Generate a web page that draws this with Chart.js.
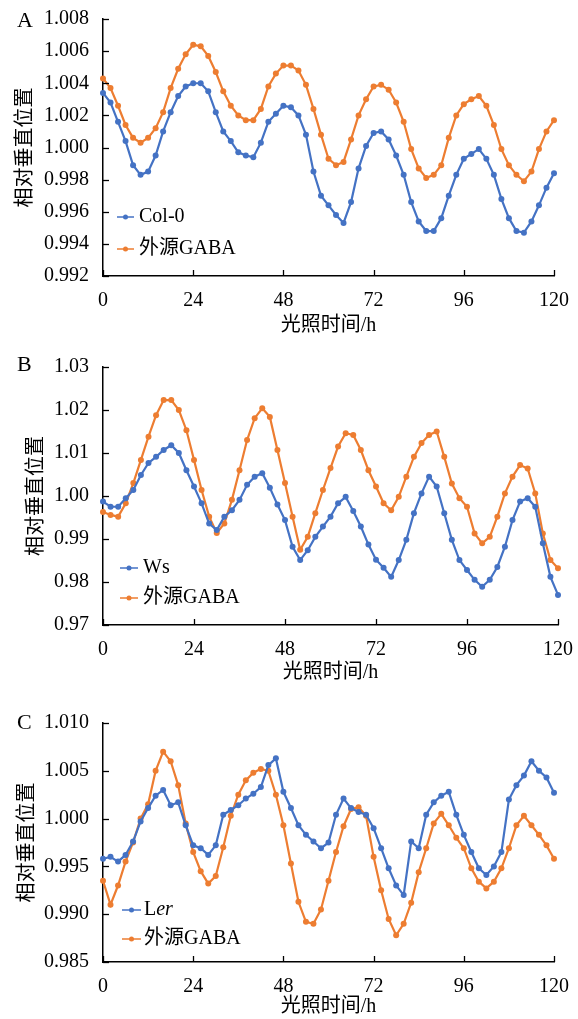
<!DOCTYPE html>
<html>
<head>
<meta charset="utf-8">
<script src="https://cdn.jsdelivr.net/npm/chart.js@4.4.1/dist/chart.umd.min.js"></script>
<style>
  html, body { margin: 0; padding: 0; background: #fff; width: 578px; height: 1019px; overflow: hidden; }
  .panel { position: absolute; left: 0; width: 578px; }
</style>
</head>
<body>
<div class="panel" style="top:0"><canvas id="chartA" width="578" height="340"></canvas></div>
<div class="panel" style="top:340px"><canvas id="chartB" width="578" height="345"></canvas></div>
<div class="panel" style="top:680px"><canvas id="chartC" width="578" height="339"></canvas></div>
<script>
// 光照时间 (h)
const hours = [0, 2, 4, 6, 8, 10, 12, 14, 16, 18, 20, 22, 24, 26, 28, 30, 32, 34, 36, 38, 40,
  42, 44, 46, 48, 50, 52, 54, 56, 58, 60, 62, 64, 66, 68, 70, 72, 74, 76, 78, 80,
  82, 84, 86, 88, 90, 92, 94, 96, 98, 100, 102, 104, 106, 108, 110, 112, 114, 116, 118, 120];
const xTicks = [0, 24, 48, 72, 96, 120];

// A: Col-0 / 外源GABA
const col0 = [1.0034, 1.0028, 1.0016, 1.0004, 0.9989, 0.9983, 0.9985, 0.9995, 1.0010, 1.0022, 1.0032,
  1.0038, 1.0040, 1.0040, 1.0035, 1.0022, 1.0010, 1.0004, 0.9997, 0.9995, 0.9994,
  1.0003, 1.0016, 1.0021, 1.0026, 1.0025, 1.0020, 1.0008, 0.9985, 0.9970, 0.9964,
  0.9958, 0.9953, 0.9966, 0.9987, 1.0001, 1.0009, 1.0010, 1.0005, 0.9995, 0.9983,
  0.9966, 0.9954, 0.9948, 0.9948, 0.9956, 0.9970, 0.9983, 0.9993, 0.9996, 0.9999,
  0.9993, 0.9983, 0.9968, 0.9956, 0.9948, 0.9947, 0.9954, 0.9964, 0.9975, 0.9984];
const gabaA = [1.0043, 1.0037, 1.0026, 1.0014, 1.0006, 1.0003, 1.0006, 1.0012, 1.0022, 1.0037, 1.0049,
  1.0058, 1.0064, 1.0063, 1.0057, 1.0047, 1.0035, 1.0026, 1.0020, 1.0017, 1.0017,
  1.0024, 1.0038, 1.0046, 1.0051, 1.0051, 1.0048, 1.0039, 1.0024, 1.0008, 0.9993,
  0.9989, 0.9991, 1.0005, 1.0020, 1.0030, 1.0038, 1.0039, 1.0036, 1.0028, 1.0016,
  0.9999, 0.9987, 0.9981, 0.9983, 0.9989, 1.0006, 1.0020, 1.0027, 1.0030, 1.0032,
  1.0026, 1.0014, 0.9999, 0.9989, 0.9983, 0.9979, 0.9985, 0.9999, 1.0010, 1.0017];

// B: Ws / 外源GABA
const ws = [0.9987, 0.9975, 0.9975, 0.9995, 1.0014, 1.0049, 1.0077, 1.0091, 1.0107, 1.0118, 1.0100,
  1.0060, 1.0022, 0.9983, 0.9936, 0.9921, 0.9952, 0.9967, 0.9991, 1.0026, 1.0045,
  1.0053, 1.0019, 0.9980, 0.9944, 0.9882, 0.9851, 0.9874, 0.9905, 0.9929, 0.9952,
  0.9983, 0.9998, 0.9965, 0.9929, 0.9887, 0.9852, 0.9833, 0.9812, 0.9851, 0.9898,
  0.9960, 1.0006, 1.0045, 1.0022, 0.9960, 0.9898, 0.9851, 0.9828, 0.9805, 0.9789,
  0.9805, 0.9835, 0.9882, 0.9944, 0.9987, 0.9995, 0.9975, 0.9890, 0.9812, 0.9770];
const gabaB = [0.9963, 0.9956, 0.9952, 0.9983, 1.0030, 1.0084, 1.0138, 1.0188, 1.0223, 1.0223, 1.0200,
  1.0153, 1.0084, 1.0014, 0.9952, 0.9914, 0.9936, 0.9991, 1.0060, 1.0130, 1.0181,
  1.0204, 1.0184, 1.0107, 1.0030, 0.9952, 0.9875, 0.9905, 0.9960, 1.0014, 1.0065,
  1.0115, 1.0146, 1.0142, 1.0107, 1.0060, 1.0022, 0.9983, 0.9967, 0.9998, 1.0045,
  1.0091, 1.0123, 1.0142, 1.0150, 1.0091, 1.0029, 0.9995, 0.9975, 0.9913, 0.9890,
  0.9905, 0.9952, 1.0006, 1.0045, 1.0072, 1.0064, 1.0006, 0.9913, 0.9851, 0.9832];

// C: Ler / 外源GABA
const ler = [0.9958, 0.9960, 0.9955, 0.9962, 0.9976, 0.9997, 1.0011, 1.0024, 1.0030, 1.0014, 1.0017,
  0.9993, 0.9972, 0.9969, 0.9962, 0.9972, 1.0004, 1.0009, 1.0014, 1.0021, 1.0026,
  1.0033, 1.0056, 1.0063, 1.0028, 1.0011, 0.9993, 0.9983, 0.9976, 0.9969, 0.9975,
  1.0004, 1.0021, 1.0011, 1.0007, 1.0004, 0.9990, 0.9969, 0.9948, 0.9930, 0.9920,
  0.9976, 0.9969, 1.0004, 1.0017, 1.0024, 1.0028, 1.0004, 0.9983, 0.9965, 0.9948,
  0.9941, 0.9950, 0.9965, 1.0020, 1.0035, 1.0045, 1.0060, 1.0050, 1.0043, 1.0027];
const gabaC = [0.9935, 0.9910, 0.9930, 0.9955, 0.9975, 1.0000, 1.0015, 1.0050, 1.0070, 1.0060, 1.0035,
  0.9995, 0.9965, 0.9945, 0.9932, 0.9940, 0.9970, 1.0003, 1.0025, 1.0040, 1.0048,
  1.0052, 1.0050, 1.0025, 0.9993, 0.9953, 0.9913, 0.9892, 0.9890, 0.9905, 0.9935,
  0.9965, 0.9992, 1.0010, 1.0012, 1.0003, 0.9960, 0.9925, 0.9895, 0.9878, 0.9890,
  0.9912, 0.9944, 0.9969, 0.9995, 1.0005, 0.9993, 0.9980, 0.9969, 0.9948, 0.9934,
  0.9927, 0.9934, 0.9948, 0.9969, 0.9993, 1.0003, 0.9993, 0.9983, 0.9972, 0.9958];

const BLUE = '#4472C4';
const ORANGE = '#ED7D31';
const FONT = "'Liberation Serif', 'Noto Sans CJK SC', serif";

// 朝内的刻度线、面板字母和图内图例
const panelDecor = {
  id: 'panelDecor',
  afterDraw(chart, args, opts) {
    const { ctx, chartArea, scales } = chart;
    ctx.save();
    ctx.strokeStyle = '#000';
    ctx.lineWidth = 1.3;
    scales.x.ticks.forEach(t => {
      const px = Math.round(scales.x.getPixelForValue(t.value)) + 0.5;
      ctx.beginPath();
      ctx.moveTo(px, chartArea.bottom);
      ctx.lineTo(px, chartArea.bottom - 6);
      ctx.stroke();
    });
    scales.y.ticks.forEach(t => {
      const py = Math.round(scales.y.getPixelForValue(t.value)) + 0.5;
      ctx.beginPath();
      ctx.moveTo(chartArea.left, py);
      ctx.lineTo(chartArea.left + 6, py);
      ctx.stroke();
    });

    ctx.fillStyle = '#000';
    ctx.textBaseline = 'middle';
    ctx.textAlign = 'left';
    ctx.font = '22px ' + FONT;
    ctx.fillText(opts.letter, 17, opts.letterY);

    chart.data.datasets.forEach((ds, i) => {
      const y = opts.legendY[i];
      const [x0, x1] = opts.legendLine;
      ctx.strokeStyle = ds.borderColor;
      ctx.lineWidth = 1.5;
      ctx.beginPath();
      ctx.moveTo(x0, y);
      ctx.lineTo(x1, y);
      ctx.stroke();
      ctx.fillStyle = ds.borderColor;
      ctx.beginPath();
      ctx.arc((x0 + x1) / 2, y, 2.5, 0, Math.PI * 2);
      ctx.fill();
      let tx = opts.legendText;
      ctx.fillStyle = '#000';
      ds.legendParts.forEach(([text, italic]) => {
        ctx.font = (italic ? 'italic ' : '') + '20px ' + FONT;
        ctx.fillText(text, tx, y);
        tx += ctx.measureText(text).width;
      });
    });
    ctx.restore();
  }
};

function series(vals) {
  return hours.map((h, i) => ({ x: h, y: vals[i] }));
}

function dataset(label, parts, vals, color) {
  return {
    label: label,
    legendParts: parts,
    data: series(vals),
    borderColor: color,
    backgroundColor: color,
    pointBackgroundColor: color,
    pointBorderWidth: 0,
    pointRadius: 3,
    borderWidth: 2.2,
    tension: 0,
    clip: false
  };
}

function makePanel(id, cfg) {
  const canvas = document.getElementById(id);
  const H = canvas.height;
  return new Chart(canvas, {
    type: 'line',
    data: { datasets: cfg.datasets },
    options: {
      responsive: false,
      animation: false,
      devicePixelRatio: 1,
      layout: { padding: { left: 0, top: cfg.plotTop, right: 578 - cfg.plotRight, bottom: 0 } },
      plugins: {
        legend: { display: false },
        tooltip: { enabled: false },
        panelDecor: cfg.decor
      },
      scales: {
        x: {
          type: 'linear',
          min: 0, max: 120,
          afterBuildTicks: s => { s.ticks = xTicks.map(v => ({ value: v })); },
          afterFit: s => { s.height = H - cfg.plotBottom; },
          grid: { display: false },
          border: { display: true, color: '#000', width: 1.5 },
          ticks: { color: '#000', font: { family: FONT, size: 20 }, padding: 5, maxRotation: 0 },
          title: {
            display: true, text: '光照时间/h', color: '#000',
            font: { family: FONT, size: 20 }, padding: { top: 0, bottom: cfg.xTitlePad }
          }
        },
        y: {
          min: cfg.yMin, max: cfg.yMax,
          afterBuildTicks: s => { s.ticks = cfg.yTicks.map(v => ({ value: v })); },
          afterFit: s => { s.width = 103; },
          grid: { display: false },
          border: { display: true, color: '#000', width: 1.5 },
          ticks: { color: '#000', font: { family: FONT, size: 20 }, padding: 6, callback: v => v.toFixed(cfg.digits) },
          title: {
            display: true, text: '相对垂直位置', color: '#000',
            font: { family: FONT, size: 20 }, padding: { top: cfg.yTitlePad, bottom: 0 }
          }
        }
      }
    },
    plugins: [panelDecor]
  });
}

makePanel('chartA', {
  datasets: [
    dataset('Col-0', [['Col-0', false]], col0, BLUE),
    dataset('外源GABA', [['外源GABA', false]], gabaA, ORANGE)
  ],
  plotTop: 19, plotBottom: 276, plotRight: 554,
  yMin: 0.992, yMax: 1.008, digits: 3,
  yTicks: [0.992, 0.994, 0.996, 0.998, 1.000, 1.002, 1.004, 1.006, 1.008],
  xTitlePad: 2, yTitlePad: 14,
  decor: { letter: 'A', letterY: 21, legendY: [217, 249], legendLine: [117, 134], legendText: 139 }
});

makePanel('chartB', {
  datasets: [
    dataset('Ws', [['Ws', false]], ws, BLUE),
    dataset('外源GABA', [['外源GABA', false]], gabaB, ORANGE)
  ],
  plotTop: 27, plotBottom: 285, plotRight: 562,
  yMin: 0.97, yMax: 1.03, digits: 2,
  yTicks: [0.97, 0.98, 0.99, 1.00, 1.01, 1.02, 1.03],
  xTitlePad: 0, yTitlePad: 25,
  decor: { letter: 'B', letterY: 25, legendY: [228, 258], legendLine: [120, 138], legendText: 143 }
});

makePanel('chartC', {
  datasets: [
    dataset('Ler', [['L', false], ['er', true]], ler, BLUE),
    dataset('外源GABA', [['外源GABA', false]], gabaC, ORANGE)
  ],
  plotTop: 43, plotBottom: 282, plotRight: 554,
  yMin: 0.985, yMax: 1.010, digits: 3,
  yTicks: [0.985, 0.990, 0.995, 1.000, 1.005, 1.010],
  xTitlePad: 0, yTitlePad: 16,
  decor: { letter: 'C', letterY: 43, legendY: [230, 259], legendLine: [122, 141], legendText: 144 }
});
</script>
</body>
</html>
